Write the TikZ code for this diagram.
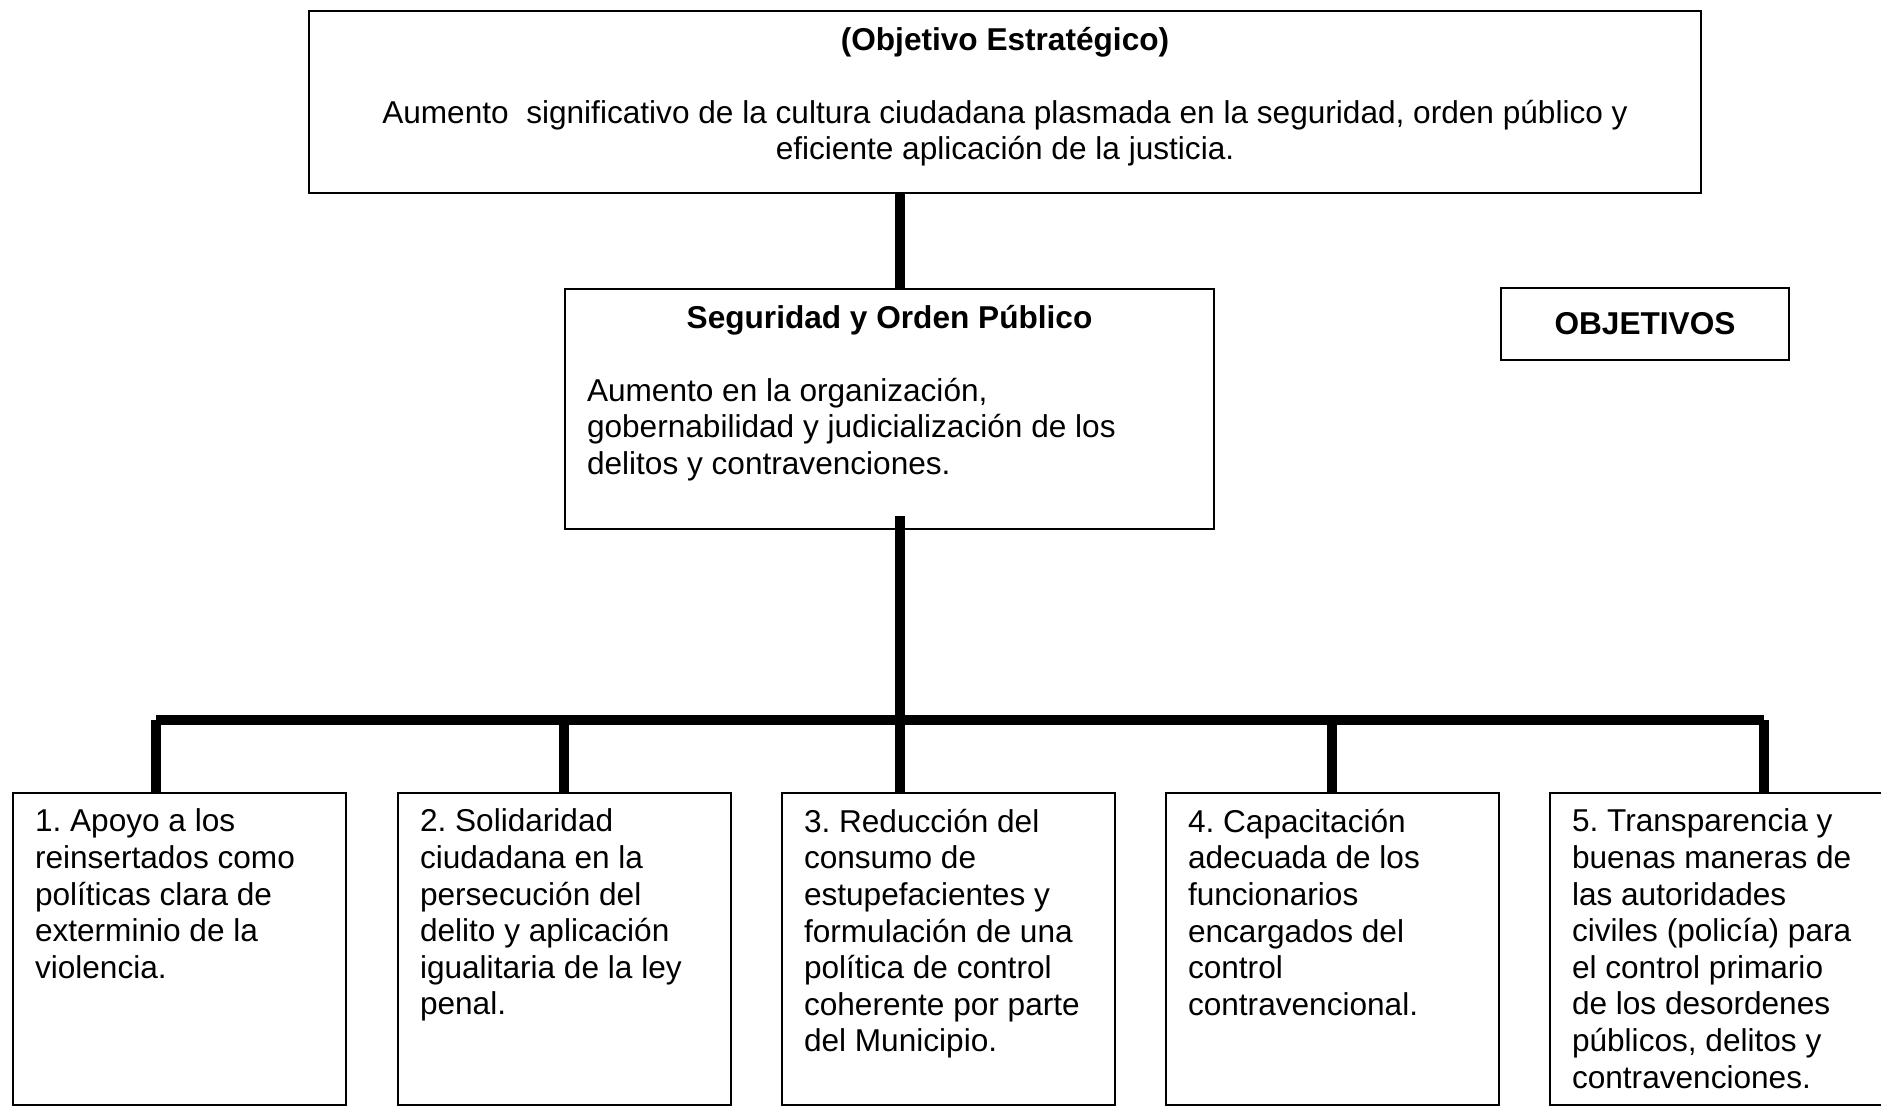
\documentclass[tikz,border=0pt]{standalone}
\usepackage{fontspec}
\setmainfont{Liberation Sans}
\frenchspacing
\begin{document}
\begin{tikzpicture}[x=0.5pt, y=-0.5pt, font=\fontsize{15.8}{18.3}\selectfont,
  caja/.style={draw, line width=1pt, anchor=north west, inner xsep=11pt, inner ysep=8pt},
  barra/.style={line width=5pt}]
\def\meta#1{\parbox[t][140pt][t]{144.5pt}{\raggedright #1}}
\useasboundingbox (0,0) rectangle (1881,1112);
% objetivo estrategico y sector
\node[caja] (estr) at (308,10) {\parbox[t][75pt][t]{674pt}{\centering\textbf{(Objetivo Estratégico)}\\[18.3pt]
   Aumento~ significativo de la cultura ciudadana plasmada en la seguridad, orden público y\\
   eficiente aplicación de la justicia.}};
\node[caja] (seg) at (564,288) {\parbox[t][104pt][t]{302.5pt}{\centering\textbf{Seguridad y Orden Público}\par
  \vspace{18.3pt}\raggedright Aumento en la organización,\\ gobernabilidad y judicialización de los\\ delitos y contravenciones.}};
\node[caja, anchor=center, minimum width=144pt, minimum height=36pt] (obj) at (1645,324) {\textbf{OBJETIVOS}};
% objetivos
\node[caja] (m1) at (12,792) {\meta{1. Apoyo a los\\ reinsertados como\\ políticas clara de\\ exterminio de la\\ violencia.}};
\node[caja] (m2) at (397,792) {\meta{2. Solidaridad\\ ciudadana en la\\ persecución del\\ delito y aplicación\\ igualitaria de la ley\\ penal.}};
\node[caja] (m3) at (781,792) {\meta{3. Reducción del\\ consumo de\\ estupefacientes y\\ formulación de una\\ política de control\\ coherente por parte\\ del Municipio.}};
\node[caja] (m4) at (1165,792) {\meta{4. Capacitación\\ adecuada de los\\ funcionarios\\ encargados del\\ control\\ contravencional.}};
\node[caja] (m5) at (1549,792) {\meta{5. Transparencia y\\ buenas maneras de\\ las autoridades\\ civiles (policía) para\\ el control primario\\ de los desordenes\\ públicos, delitos y\\ contravenciones.}};
\coordinate (j1) at (156,720);
\coordinate (j2) at (564,720);
\coordinate (j3) at (900,720);
\coordinate (j4) at (1332,720);
\coordinate (j5) at (1764,720);
\draw[barra] (j3 |- estr.south) -- (j3 |- seg.north);
\draw[barra] (j3 |- seg.south) ++(0,-14) -- (j3);
\draw[barra] (j1) -- (j5);
\draw[barra] (j1) -- (j1 |- m1.north);
\draw[barra] (j2) -- (j2 |- m2.north);
\draw[barra] (j3) -- (j3 |- m3.north);
\draw[barra] (j4) -- (j4 |- m4.north);
\draw[barra] (j5) -- (j5 |- m5.north);
\end{tikzpicture}
\end{document}
